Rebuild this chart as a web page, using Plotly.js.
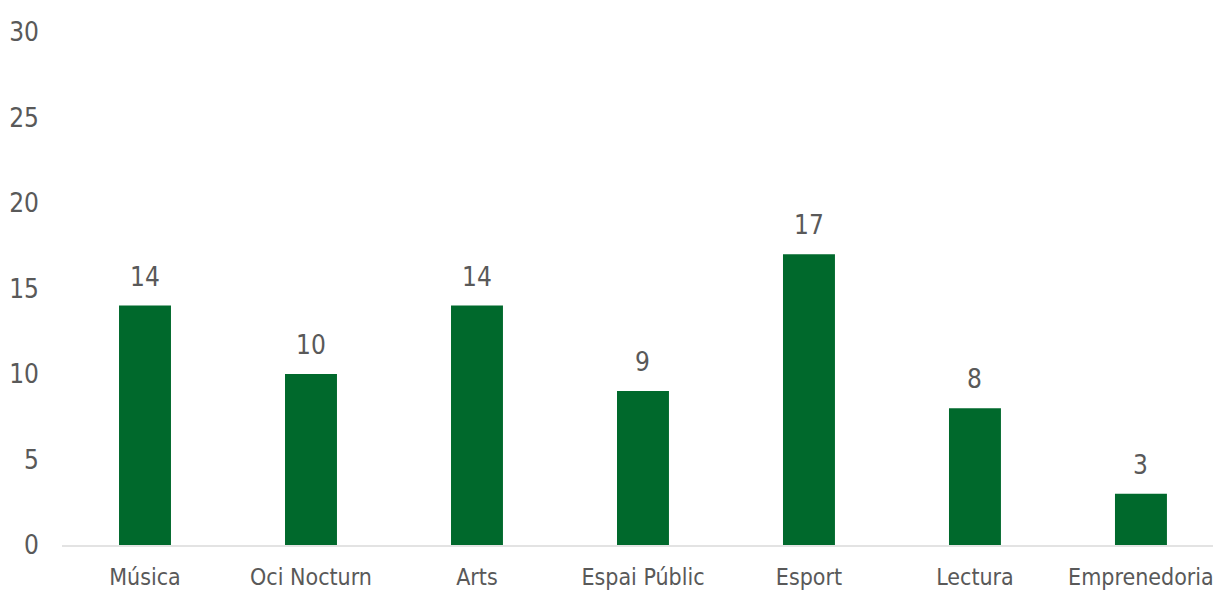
<!DOCTYPE html>
<html>
<head>
<meta charset="utf-8">
<script src="https://cdn.plot.ly/plotly-3.0.1.min.js"></script>
<style>html,body{margin:0;padding:0;background:#fff;}#chart{width:1213px;height:593px;}</style>
</head>
<body>
<div id="chart"></div>
<script>
const categories = ["Música", "Oci Nocturn", "Arts", "Espai Públic", "Esport", "Lectura", "Emprenedoria"];
const values = [14, 10, 14, 9, 17, 8, 3];
const yTicks = [0, 5, 10, 15, 20, 25, 30];

const FONT = '"Liberation Sans Narrow", "Arial Narrow", "DejaVu Sans Condensed", sans-serif';
const GREY = '#595959';

const trace = {
  type: 'bar',
  x: categories,
  y: values,
  width: 0.313,
  marker: {color: '#00692C', line: {width: 0}},
  hoverinfo: 'none'
};

const annotations = categories.map((c, i) => ({
  x: c, y: values[i], xref: 'x', yref: 'y',
  text: String(values[i]), showarrow: false,
  yanchor: 'bottom', yshift: 12,
  font: {family: FONT, size: 26, color: GREY}
}));

const layout = {
  width: 1213, height: 593,
  margin: {l: 62, r: 0, t: 32, b: 48},
  paper_bgcolor: '#fff', plot_bgcolor: '#fff',
  showlegend: false,
  font: {family: FONT, size: 26, color: GREY},
  xaxis: {
    type: 'category',
    range: [-0.5, 6.434],
    showgrid: false, zeroline: false,
    showline: true, linecolor: '#e3e3e3', linewidth: 2,
    ticks: '', ticklabelstandoff: 10,
    tickfont: {family: FONT, size: 23, color: GREY},
    fixedrange: true
  },
  yaxis: {
    range: [0, 30],
    tickvals: yTicks, ticktext: yTicks.map(String),
    showgrid: false, zeroline: false, showline: false,
    ticks: '', ticklabelstandoff: 22,
    tickfont: {family: FONT, size: 26, color: GREY},
    fixedrange: true
  },
  annotations: annotations
};

Plotly.newPlot('chart', [trace], layout, {displayModeBar: false, staticPlot: true});
</script>
</body>
</html>
